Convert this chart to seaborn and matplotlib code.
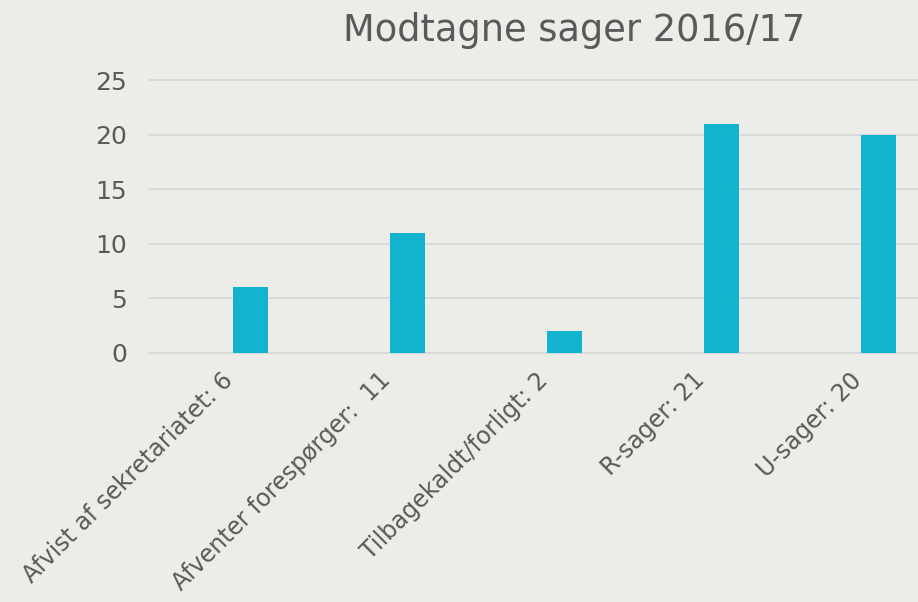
import matplotlib
matplotlib.use("Agg")
import matplotlib.pyplot as plt
import numpy as np
import pandas as pd
import seaborn as sns

# Data
categories = [
    "Afvist af sekretariatet: 6",
    "Afventer forespørger:  11",
    "Tilbagekaldt/forligt: 2",
    "R-sager: 21",
    "U-sager: 20",
]
values = [6, 11, 2, 21, 20]
y_ticks = [0, 5, 10, 15, 20, 25]
title = "Modtagne sager 2016/17"

BG = "#ECECE8"
BAR = "#12B3CF"
TXT = "#595959"
GRID = "#D9D9D9"

sns.set_theme(style="white")
plt.rcParams["font.family"] = ["DejaVu Sans"]

df = pd.DataFrame({"kategori": categories, "antal": values})

fig = plt.figure(figsize=(9.18, 6.02), dpi=100, facecolor=BG)
ax = fig.add_axes([149 / 918, 1 - 353 / 602, 1 - 149 / 918, 273 / 602])
ax.set_facecolor(BG)

sns.barplot(data=df, x="kategori", y="antal", color=BAR, width=0.223,
            saturation=1, linewidth=0, ax=ax, zorder=3)

ax.set_ylim(0, 25)
ax.set_xlim(-0.644, 4.25)
ax.set_yticks(y_ticks)
ax.yaxis.grid(True, color=GRID, linewidth=1.4, zorder=0)
for gl in ax.get_ygridlines():
    gl.set_clip_on(False)
ax.set_axisbelow(True)
ax.tick_params(axis="y", length=0, pad=16, labelsize=18, labelcolor=TXT)

# category labels sit left of the bars (bars are offset like in a clustered chart)
ax.set_xticks(np.arange(len(categories)) - 0.13)
ax.set_xticklabels(categories, rotation=45, ha="right", va="center",
                   rotation_mode="anchor", fontsize=17, color=TXT)
ax.tick_params(axis="x", length=0, pad=17)

ax.set_xlabel("")
ax.set_ylabel("")
sns.despine(ax=ax, left=True, bottom=True, top=True, right=True)

fig.text(574 / 918, 1 - 41 / 602, title, ha="center", va="baseline",
         fontsize=26.5, color=TXT)

plt.savefig("out.png", dpi=100, facecolor=BG)
plt.close(fig)
